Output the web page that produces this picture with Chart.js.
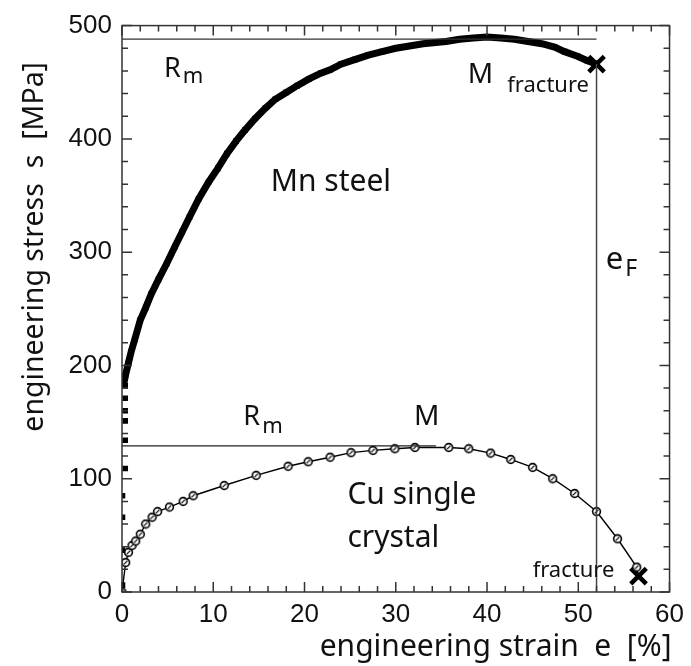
<!DOCTYPE html>
<html>
<head>
<meta charset="utf-8">
<script src="https://cdn.jsdelivr.net/npm/chart.js@4"></script>
<style>
  html, body { margin: 0; padding: 0; background: #fff; }
  #wrap { width: 691px; height: 666px; }
</style>
</head>
<body>
<div id="wrap"><canvas id="myChart" width="691" height="666"></canvas></div>
<script>
// Mn steel: strain [%] and stress [MPa]
const mnStrain = [0.2, 0.4, 0.7, 1.0, 1.4, 2.0, 2.6, 3.2, 4.0, 4.9, 5.8, 6.6, 7.4, 8.4, 9.5, 10.5, 11.5, 12.5, 13.5, 14.6, 15.7, 16.8, 18.0, 19.2, 20.5, 21.8, 22.8, 24.0, 25.5, 27.0, 28.5, 30.0, 31.5, 33.0, 35.5, 37.0, 38.5, 40.0, 41.5, 43.0, 44.5, 46.0, 47.4, 48.5, 49.9, 51.0, 52.0];
const mnStress = [184, 192, 202, 212, 223, 240, 251, 263, 276, 290, 305, 318, 331, 347, 362, 374, 387, 398, 408, 418, 427, 435, 441, 447, 453, 458, 461, 466, 470, 474, 477, 480, 482, 484, 486, 488, 489, 490, 489, 488, 486, 484, 481, 477, 473, 469, 466];

// Mn steel elastic part (separate squares along the axis)
const mnElasticStrain = [0.05, 0.05, 0.05, 0.05, 0.35, 0.35, 0.35, 0.35, 0.35, 0.35];
const mnElasticStress = [6, 37, 66, 85, 109, 134, 151, 160, 171, 182];

// Cu single crystal
const cuStrain = [0, 0.4, 0.7, 1.1, 1.5, 2.0, 2.6, 3.3, 3.9, 5.2, 6.7, 7.8, 11.2, 14.7, 18.2, 20.4, 22.8, 25.1, 27.5, 29.9, 32.1, 35.8, 38.0, 40.4, 42.6, 45.0, 47.2, 49.6, 52.0, 54.3, 56.4, 56.6];
const cuStress = [0, 26, 35, 41, 45, 51, 60, 66, 71, 75, 80, 85, 94, 103, 111, 115, 119, 123, 125, 126.5, 127.6, 127.6, 126.5, 122.6, 117, 110, 100, 87, 71, 47, 22, 14];

// fracture points
const fractureStrain = [52.0, 56.6];
const fractureStress = [466, 14];

// reference lines
const mnRmLineStrain = [0, 52];
const mnRmLineStress = [488, 488];
const cuRmLineStrain = [0, 34.4];
const cuRmLineStress = [129, 129];
const eFLineStrain = [52, 52];
const eFLineStress = [466, 0];

// axes
const xMin = 0, xMax = 60, xMajor = 10, xMinor = 2;
const yMin = 0, yMax = 500, yMajor = 100, yMinor = 20;
const xTitle = 'engineering strain  e  [%]';
const yTitle = 'engineering stress  s  [MPa]';

function zip(xs, ys) {
  return xs.map((x, i) => ({ x: x, y: ys[i] }));
}

// open circle with a slash, as in the original
const circleMark = document.createElement('canvas');
circleMark.width = 11;
circleMark.height = 11;
(function () {
  const c = circleMark.getContext('2d');
  c.fillStyle = '#fff';
  c.strokeStyle = '#000';
  c.lineWidth = 1.6;
  c.beginPath();
  c.arc(5.5, 5.5, 3.9, 0, Math.PI * 2);
  c.fill();
  c.stroke();
  c.lineWidth = 1.2;
  c.beginPath();
  c.moveTo(3.6, 7.4);
  c.lineTo(7.4, 3.6);
  c.stroke();
})();

const labelFont = '"Noto Sans", sans-serif';
const numFont = '"Liberation Sans", Arial, sans-serif';

// text notes: [strain, stress] at the text baseline start
const notes = [
  { x: 4.6, y: 455, text: 'R', size: 27, sub: 'm', subSize: 22, dy: 6 },
  { x: 37.9, y: 449, text: 'M', size: 28, sub: 'fracture', subSize: 22, gap: 14, dy: 9 },
  { x: 16.3, y: 354, text: 'Mn steel', size: 30 },
  { x: 53.0, y: 285, text: 'e', size: 31, sub: 'F', subSize: 23, dy: 7 },
  { x: 13.3, y: 147, text: 'R', size: 27, sub: 'm', subSize: 22, dy: 8 },
  { x: 32.0, y: 147, text: 'M', size: 28 },
  { x: 24.7, y: 78, text: 'Cu single', size: 30 },
  { x: 24.7, y: 40, text: 'crystal', size: 30 },
  { x: 45.0, y: 13, text: 'fracture', size: 22 },
];

const framePlugin = {
  id: 'frame',
  afterDatasetsDraw(chart) {
    const { ctx, chartArea: a, scales } = chart;
    const xs = scales.x, ys = scales.y;
    ctx.save();
    ctx.strokeStyle = '#333';
    ctx.lineWidth = 1.5;
    ctx.strokeRect(a.left, a.top, a.right - a.left, a.bottom - a.top);
    ctx.beginPath();
    for (let v = xMin; v <= xMax; v += xMinor) {
      const p = xs.getPixelForValue(v);
      const len = v % xMajor === 0 ? 10 : 6;
      ctx.moveTo(p, a.bottom); ctx.lineTo(p, a.bottom - len);
      ctx.moveTo(p, a.top); ctx.lineTo(p, a.top + len);
    }
    for (let v = yMin; v <= yMax; v += yMinor) {
      const p = ys.getPixelForValue(v);
      const len = v % yMajor === 0 ? 10 : 6;
      ctx.moveTo(a.left, p); ctx.lineTo(a.left + len, p);
      ctx.moveTo(a.right, p); ctx.lineTo(a.right - len, p);
    }
    ctx.stroke();

    // notes
    ctx.fillStyle = '#111';
    ctx.textBaseline = 'alphabetic';
    ctx.textAlign = 'left';
    notes.forEach(n => {
      const px = xs.getPixelForValue(n.x);
      const py = ys.getPixelForValue(n.y);
      ctx.font = n.size + 'px ' + labelFont;
      ctx.fillText(n.text, px, py);
      if (n.sub) {
        const w = ctx.measureText(n.text).width;
        ctx.font = n.subSize + 'px ' + labelFont;
        ctx.fillText(n.sub, px + w + (n.gap || 2), py + (n.dy || 7));
      }
    });

    // axis titles
    ctx.font = '30px ' + labelFont;
    ctx.textAlign = 'right';
    ctx.fillText(xTitle, a.right + 2, 656);
    ctx.font = '28.5px ' + labelFont;
    ctx.translate(43, 62);
    ctx.rotate(-Math.PI / 2);
    ctx.textAlign = 'right';
    ctx.fillText(yTitle, 0, 0);
    ctx.restore();
  }
};

const data = {
  datasets: [
    {
      label: 'Mn steel Rm',
      data: zip(mnRmLineStrain, mnRmLineStress),
      borderColor: '#333', borderWidth: 1.3, pointRadius: 0, showLine: true,
    },
    {
      label: 'Cu Rm',
      data: zip(cuRmLineStrain, cuRmLineStress),
      borderColor: '#222', borderWidth: 1.3, pointRadius: 0, showLine: true,
    },
    {
      label: 'eF',
      data: zip(eFLineStrain, eFLineStress),
      borderColor: '#444', borderWidth: 1.5, pointRadius: 0, showLine: true,
    },
    {
      label: 'Mn steel',
      data: zip(mnStrain, mnStress),
      borderColor: '#000', borderWidth: 7, showLine: true,
      pointStyle: 'rect', pointRadius: 4, backgroundColor: '#000', pointBorderWidth: 0,
    },
    {
      label: 'Mn steel elastic',
      data: zip(mnElasticStrain, mnElasticStress),
      showLine: false, pointStyle: 'rect', pointRadius: 4, backgroundColor: '#000', pointBorderWidth: 0,
    },
    {
      label: 'Cu single crystal',
      data: zip(cuStrain, cuStress),
      borderColor: '#000', borderWidth: 1.4, showLine: true,
      pointStyle: circleMark,
      pointRadius: ctx => ctx.dataIndex === cuStrain.length - 1 ? 0 : 5,
    },
    {
      label: 'fracture',
      data: zip(fractureStrain, fractureStress),
      showLine: false, pointStyle: 'crossRot', pointRadius: 11,
      borderColor: '#000', pointBorderWidth: 4.5,
    },
  ],
};

const config = {
  type: 'scatter',
  data: data,
  options: {
    responsive: false,
    animation: false,
    layout: { padding: { top: 24, right: 14, left: 0, bottom: 0 } },
    plugins: { legend: { display: false }, tooltip: { enabled: false } },
    scales: {
      x: {
        type: 'linear', min: xMin, max: xMax,
        grid: { display: false, drawTicks: false },
        border: { display: false },
        ticks: { stepSize: xMajor, padding: 7, color: '#111', font: { family: numFont, size: 26 } },
        afterFit: s => { s.height = 74; },
      },
      y: {
        type: 'linear', min: yMin, max: yMax,
        grid: { display: false, drawTicks: false },
        border: { display: false },
        ticks: { stepSize: yMajor, padding: 10, color: '#111', font: { family: numFont, size: 26 } },
        afterFit: s => { s.width = 122; },
      },
    },
  },
  plugins: [framePlugin],
};

new Chart(document.querySelector('#myChart'), config);
</script>
</body>
</html>
